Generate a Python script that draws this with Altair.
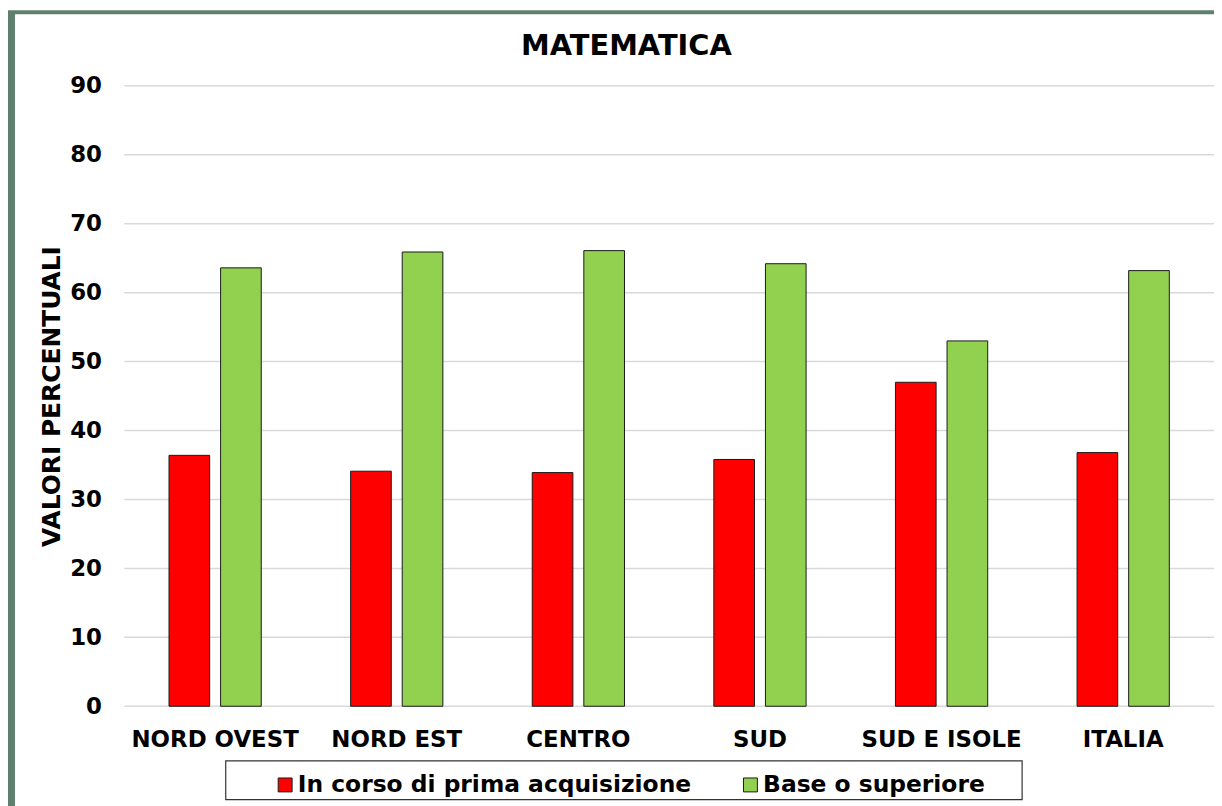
import altair as alt
import pandas as pd

regions = ["NORD OVEST", "NORD EST", "CENTRO", "SUD", "SUD E ISOLE", "ITALIA"]
series = ["In corso di prima acquisizione", "Base o superiore"]
prima = [36.4, 34.1, 33.9, 35.8, 47.0, 36.8]
base = [63.6, 65.9, 66.1, 64.2, 53.0, 63.2]
y_ticks = [0, 10, 20, 30, 40, 50, 60, 70, 80, 90]
colors = ["#ff0000", "#92d050"]
chart_title = "MATEMATICA"
y_title = "VALORI PERCENTUALI"

W, H = 1096, 624
FONT = "DejaVu Sans"

rows = []
for r, a, b in zip(regions, prima, base):
    rows.append({"regione": r, "serie": series[0], "valore": a})
    rows.append({"regione": r, "serie": series[1], "valore": b})
df = pd.DataFrame(rows)

yscale = alt.Scale(domain=[0, 90], nice=False, zero=True)
y_axis = alt.Axis(
    values=y_ticks, title=y_title, titleFont=FONT, titleFontSize=25,
    titleFontWeight="bold", titleColor="black", titlePadding=5,
    labelFont=FONT, labelFontSize=23, labelFontWeight="bold", labelColor="black",
    labelPadding=23, ticks=False, domain=False, grid=False, zindex=1,
)

one = pd.DataFrame({"k": [0]})

# chalkboard border (left/top strips) behind the white chart panel
board = alt.Chart(one).mark_rect(color="#60806f").encode(
    x=alt.value(-117), x2=alt.value(W + 200), y=alt.value(-76), y2=alt.value(H + 300)
)
panel = alt.Chart(one).mark_rect(color="white").encode(
    x=alt.value(-110), x2=alt.value(W + 200), y=alt.value(-72), y2=alt.value(H + 300)
)

grid = alt.Chart(pd.DataFrame({"v": y_ticks})).mark_rule(
    color="#d9d9d9", strokeWidth=1.5
).encode(
    y=alt.Y("v:Q", scale=yscale, axis=y_axis),
    x=alt.value(0), x2=alt.value(W),
)

bars = alt.Chart(df).mark_bar(stroke="#1a1a1a", strokeWidth=1).encode(
    x=alt.X(
        "regione:N", sort=regions,
        scale=alt.Scale(paddingInner=0.492, paddingOuter=0.246),
        axis=alt.Axis(
            title=None, labelAngle=0, labelFont=FONT, labelFontSize=23,
            labelFontWeight="bold", labelColor="black", ticks=False,
            domain=False, labelPadding=22, zindex=1, labelLimit=0,
        ),
    ),
    xOffset=alt.XOffset("serie:N", sort=series,
                        scale=alt.Scale(paddingInner=0.212, paddingOuter=0)),
    y=alt.Y("valore:Q", scale=yscale, axis=y_axis),
    color=alt.Color(
        "serie:N", sort=series,
        scale=alt.Scale(domain=series, range=colors),
        legend=alt.Legend(
            title=None, orient="none", legendX=150, legendY=691,
            direction="horizontal", symbolType="square", symbolSize=196,
            symbolStrokeColor="#1a1a1a", symbolStrokeWidth=1, symbolOpacity=1,
            labelFont=FONT, labelFontSize=23.5, labelFontWeight="bold",
            labelColor="black", labelOffset=1, columnPadding=47, padding=0,
            labelLimit=0,
        ),
    ),
)

box = alt.Chart(one).mark_rect(fill="white", stroke="#333333", strokeWidth=1.2).encode(
    x=alt.value(102), x2=alt.value(903), y=alt.value(679), y2=alt.value(718)
)

title = alt.Chart(pd.DataFrame({"t": [chart_title]})).mark_text(
    font=FONT, fontSize=29, fontWeight="bold", color="black",
    align="center", baseline="alphabetic",
).encode(text="t:N", x=alt.value(505), y=alt.value(-31))

chart = alt.layer(board, panel, grid, bars, box, title).properties(
    width=W, height=H,
    autosize=alt.AutoSizeParams(type="none"),
    padding={"left": 117, "top": 76, "right": 0, "bottom": 98},
    background="white",
).configure_view(strokeWidth=0)

chart.save("out.html", embed_options={"renderer": "svg", "actions": False})
